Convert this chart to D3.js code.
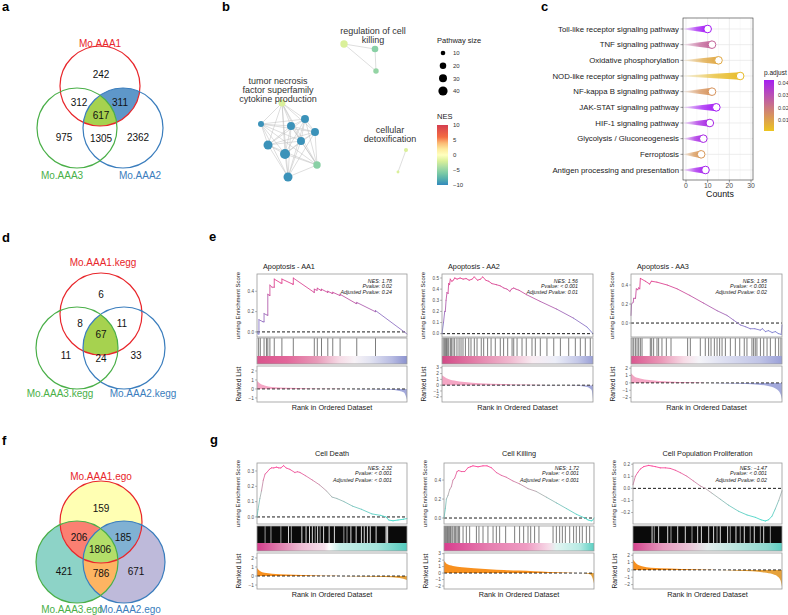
<!DOCTYPE html>
<html>
<head>
<meta charset="utf-8">
<script src="https://cdn.jsdelivr.net/npm/d3@7"></script>
<style>
body { margin: 0; background: #fff; }
svg { font-family: "Liberation Sans", Arial, Helvetica, sans-serif; }
</style>
</head>
<body>
<div id="fig"></div>
<script>
// ---------------- data ----------------
// venn regions: key = AAA1 AAA2 AAA3 membership
var vennKeys = ["100", "110", "101", "111", "001", "011", "010"];
var vennA = [242, 311, 312, 617, 975, 1305, 2362];
var vennD = [6, 11, 8, 67, 11, 24, 33];
var vennF = [159, 185, 206, 1806, 421, 786, 671];
var namesA = ["Mo.AAA1", "Mo.AAA2", "Mo.AAA3"];
var namesD = ["Mo.AAA1.kegg", "Mo.AAA2.kegg", "Mo.AAA3.kegg"];
var namesF = ["Mo.AAA1.ego", "Mo.AAA2.ego", "Mo.AAA3.ego"];

// panel b network (layout position, pathway size, NES, cluster)
var netX = [344, 375, 376, 282, 261, 291, 305, 315, 301, 268, 285, 317, 288, 406, 398];
var netY = [44, 49, 71, 103, 124, 126, 119, 132, 141, 145, 154, 165, 177, 150, 172];
var netSize = [26, 21, 14, 23, 17, 30, 30, 30, 30, 38, 47, 26, 38, 8, 4];
var netNES = [-2, -5.5, -5, -2, -9.5, -9.5, -9.5, -9.5, -9.5, -9.5, -9.5, -5.5, -9.5, -2, -2];
var netCluster = [0, 0, 0, 1, 1, 1, 1, 1, 1, 1, 1, 1, 1, 2, 2];
var clusterLabels = [["regulation of cell", "killing"], ["tumor necrosis", "factor superfamily", "cytokine production"], ["cellular", "detoxification"]];
var sizeTicks = [10, 20, 30, 40];
var nesTicks = [10, 5, 0, -5, -10];

// panel c
var keggTerms = ["Toll-like receptor signaling pathway", "TNF signaling pathway", "Oxidative phosphorylation",
  "NOD-like receptor signaling pathway", "NF-kappa B signaling pathway", "JAK-STAT signaling pathway",
  "HIF-1 signaling pathway", "Glycolysis / Gluconeogenesis", "Ferroptosis", "Antigen processing and presentation"];
var keggCounts = [10, 12, 15, 25, 12, 14, 11, 8, 7, 9];
var keggPadj = [0.043, 0.025, 0.008, 0.003, 0.013, 0.043, 0.04, 0.04, 0.012, 0.042];
var countTicks = [0, 10, 20, 30];
var padjTicks = [0.04, 0.03, 0.02, 0.01];

// panel e: GSEA apoptosis
var esE1 = [[0,0],[.007,-.02],[.013,-.02],[.013,.12],[.04,.10],[.047,.10],[.047,.18],[.068,.165],[.072,.165],[.072,.37],[.082,.36],[.086,.36],[.086,.46],[.1,.44],[.115,.44],[.115,.52],[.16,.48],[.166,.48],[.166,.52],[.238,.47],[.242,.47],[.242,.53],[.38,.39],[.382,.39],[.382,.42],[.4,.41],[.402,.43],[.425,.41],[.43,.41],[.43,.42],[.47,.39],[.472,.39],[.472,.40],[.5,.38],[.505,.38],[.505,.39],[.55,.36],[.554,.36],[.554,.37],[.66,.28],[.665,.28],[.665,.29],[.788,.20],[.79,.20],[.79,.21],[1,-.02]];
var hitsE1 = [.011,.022,.047,.063,.072,.086,.115,.166,.242,.382,.402,.43,.472,.505,.554,.665,.79];
var rankE1 = [[0,.9],[.02,.6],[.05,.38],[.1,.22],[.2,.12],[.35,.06],[.5,.02],[.6,0],[.75,-.04],[.88,-.1],[.95,-.22],[.98,-.4],[1,-1.2]];
var bandE1 = [[0,"#d9548c"],[.2,"#e2679a"],[.4,"#e79ab8"],[.55,"#f6dbe6"],[.65,"#f7f2f6"],[.75,"#e3e4f2"],[.9,"#b7bbe2"],[1,"#8b92cf"]];
var statsE1 = ["NES: 1.78", "Pvalue: 0.02", "Adjusted Pvalue: 0.24"];

var esE2 = [[0,0],[.01,.1],[.018,.2],[.022,.2],[.027,.3],[.033,.37],[.04,.36],[.044,.45],[.05,.44],[.055,.49],[.065,.47],[.075,.48],[.084,.5],[.1,.49],[.12,.5],[.14,.49],[.16,.495],[.18,.48],[.2,.49],[.214,.51],[.235,.48],[.255,.49],[.27,.51],[.29,.48],[.31,.47],[.33,.45],[.36,.44],[.385,.43],[.41,.41],[.43,.40],[.45,.38],[.46,.40],[.475,.41],[.49,.40],[.51,.39],[.56,.35],[.65,.29],[.76,.22],[.87,.14],[.96,.06],[1,0]];
var hitsE2 = [.007,.015,.022,.029,.035,.044,.055,.062,.073,.084,.099,.113,.126,.139,.155,.177,.192,.214,.232,.26,.276,.302,.325,.353,.386,.408,.435,.464,.475,.497,.53,.558,.596,.618,.651,.695,.74,.784,.839,.883,.916,.949,.982];
var rankE2 = [[0,1.7],[.03,1.2],[.08,.8],[.15,.55],[.25,.35],[.4,.2],[.55,.1],[.7,.04],[.8,0],[.9,-.08],[.96,-.3],[.99,-.8],[1,-2.5]];
var bandE2 = [[0,"#d14a86"],[.2,"#e27aa5"],[.45,"#f0b9cf"],[.6,"#f8ecf2"],[.75,"#eceef8"],[.9,"#c4c8e8"],[1,"#9aa0d6"]];
var statsE2 = ["NES: 1.56", "Pvalue: < 0.001", "Adjusted Pvalue: 0.01"];

var esE3 = [[0,.08],[.004,.2],[.015,.22],[.018,.26],[.03,.26],[.035,.36],[.045,.35],[.05,.37],[.058,.36],[.062,.47],[.095,.44],[.124,.41],[.135,.44],[.172,.43],[.24,.40],[.305,.36],[.39,.29],[.48,.21],[.57,.13],[.636,.08],[.68,.03],[.724,-.02],[.76,-.04],[.79,-.06],[.82,-.06],[.856,-.075],[.87,-.06],[.89,-.09],[.91,-.08],[.935,-.1],[.956,-.09],[.975,-.11],[.995,-.12],[1,-.02]];
var hitsE3 = [.007,.018,.029,.04,.051,.062,.073,.128,.137,.15,.172,.183,.205,.234,.265,.375,.393,.459,.492,.514,.53,.552,.57,.587,.603,.625,.658,.691,.72,.75,.768,.801,.812,.823,.834,.857,.879,.901,.923,.956,.978,.993];
var rankE3 = [[0,1.3],[.02,.9],[.06,.6],[.12,.4],[.25,.2],[.4,.08],[.5,0],[.65,-.08],[.8,-.2],[.9,-.4],[.96,-.8],[.99,-1.5],[1,-2.3]];
var bandE3 = [[0,"#d9578f"],[.2,"#ea98b7"],[.35,"#f7dbe6"],[.45,"#f5f5f9"],[.6,"#dfe1f2"],[.85,"#c0c4e6"],[1,"#9aa0d8"]];
var statsE3 = ["NES: 1.95", "Pvalue: < 0.001", "Adjusted Pvalue: 0.02"];

// panel g: GSEA GO terms
var esG1 = [[0,0],[.007,.05],[.019,.12],[.03,.17],[.042,.24],[.054,.28],[.065,.29],[.082,.31],[.096,.32],[.112,.32],[.13,.325],[.145,.32],[.159,.32],[.178,.335],[.194,.32],[.22,.31],[.252,.29],[.27,.295],[.287,.29],[.322,.27],[.37,.24],[.416,.21],[.463,.17],[.5,.13],[.533,.12],[.58,.10],[.638,.07],[.696,.05],[.766,.02],[.825,.01],[.86,0],[.878,-.02],[.907,-.025],[.94,-.02],[.977,-.015],[1,-.01]];
var gapsG1 = [.21,.299,.327,.35,.369,.404,.444,.481,.516,.626,.661,.696,.715,.736,.755,.794,.86,.866,.871];
var greyG1 = [.054,.093,.159,.229,.388,.421,.579,.6];
var rankG1 = [[0,.9],[.02,.55],[.05,.35],[.1,.25],[.2,.17],[.3,.12],[.4,.07],[.5,.02],[.55,0],[.7,-.05],[.85,-.12],[.95,-.22],[1,-.45]];
var bandG1 = [[0,"#d43d8c"],[.15,"#e07fae"],[.3,"#efbfd6"],[.45,"#f6e1ec"],[.48,"#ffffff"],[.55,"#c9efea"],[.8,"#a5e4dc"],[1,"#54cbbe"]];
var statsG1 = ["NES: 2.32", "Pvalue: < 0.001", "Adjusted Pvalue: < 0.001"];

var esG2 = [[0,0],[.009,.1],[.016,.2],[.027,.24],[.038,.3],[.049,.33],[.06,.4],[.071,.42],[.087,.49],[.098,.5],[.116,.49],[.138,.49],[.16,.53],[.176,.54],[.193,.55],[.227,.54],[.26,.55],[.287,.55],[.316,.53],[.349,.48],[.382,.45],[.415,.43],[.46,.39],[.504,.36],[.56,.31],[.615,.28],[.682,.22],[.749,.16],[.816,.1],[.882,.04],[.938,0],[.96,-.02],[.982,-.03],[.993,-.02],[1,0]];
var hitsG2 = [.004,.011,.018,.024,.031,.038,.044,.053,.06,.071,.078,.087,.096,.104,.127,.149,.171,.216,.233,.26,.293,.327,.349,.371,.411,.471,.504,.531,.56,.578,.604,.633,.727,.749,.771,.789,.809,.838,.864,.882,.904,.922,.949,.971];
var rankG2 = [[0,1.9],[.02,1.4],[.06,1.1],[.12,.9],[.2,.75],[.3,.6],[.4,.48],[.5,.38],[.6,.28],[.7,.18],[.8,.1],[.88,.03],[.92,0],[.96,-.1],[.98,-.3],[1,-1.6]];
var bandG2 = [[0,"#d93d8e"],[.3,"#e67fb0"],[.55,"#ef9cc3"],[.7,"#f6dbe8"],[.75,"#e2f5f2"],[.9,"#b9ebe5"],[1,"#5ccfc2"]];
var statsG2 = ["NES: 1.72", "Pvalue: < 0.001", "Adjusted Pvalue: < 0.001"];

var esG3 = [[0,.03],[.016,.1],[.031,.13],[.049,.16],[.072,.18],[.105,.19],[.128,.185],[.15,.18],[.183,.17],[.217,.17],[.25,.165],[.284,.15],[.318,.13],[.362,.1],[.407,.06],[.452,.02],[.485,0],[.53,-.04],[.586,-.09],[.642,-.14],[.709,-.19],[.765,-.22],[.821,-.24],[.859,-.26],[.888,-.27],[.91,-.26],[.933,-.23],[.955,-.17],[.978,-.1],[1,-.02]];
var gapsG3 = [.128,.172,.233,.3,.351,.434,.459,.508,.541,.586,.635,.691,.747,.814,.877];
var greyG3 = [.143,.255,.396,.564,.653,.72,.787,.855,.922];
var rankG3 = [[0,1.4],[.02,.9],[.06,.5],[.12,.3],[.25,.18],[.4,.08],[.5,.02],[.55,0],[.7,-.1],[.8,-.2],[.88,-.35],[.94,-.6],[.97,-.9],[.99,-1.4],[1,-2.3]];
var bandG3 = [[0,"#d5448e"],[.2,"#e79bbf"],[.38,"#eac6d8"],[.5,"#e5eeee"],[.7,"#b9e5df"],[.9,"#8fd8cf"],[1,"#5ccfc2"]];
var statsG3 = ["NES: \u22121.47", "Pvalue: < 0.001", "Adjusted Pvalue: 0.02"];

// ---------------- svg ----------------
var W = 788, H = 615;
var svg = d3.select("#fig").append("svg").attr("width", W).attr("height", H);
svg.append("rect").attr("width", W).attr("height", H).attr("fill", "#fff");
var defs = svg.append("defs");

[["a", 2, 11], ["b", 222, 11], ["c", 541, 11], ["d", 2, 242], ["e", 209, 241], ["f", 2, 445], ["g", 210, 444]]
  .forEach(function(l) {
    svg.append("text").attr("x", l[1]).attr("y", l[2]).attr("font-size", 13).attr("font-weight", "bold")
      .attr("fill", "#000").text(l[0]);
  });

// ---------------- venn ----------------
var vennStroke = ["#e8262b", "#3a7dbd", "#4aaf48"];

function drawVenn(id, circ, counts, names, labelPos, namePos, fills) {
  var g = svg.append("g");
  circ.forEach(function(c, i) {
    defs.append("clipPath").attr("id", id + "c" + i)
      .append("circle").attr("cx", c[0]).attr("cy", c[1]).attr("r", c[2]);
  });
  vennKeys.forEach(function(k) {
    var fill = fills[k];
    if (!fill) return;
    var inc = [], exc = [];
    for (var i = 0; i < 3; i++) (k[i] === "1" ? inc : exc).push(i);
    var m = defs.append("mask").attr("id", id + "m" + k).attr("maskUnits", "userSpaceOnUse")
      .attr("x", 0).attr("y", 0).attr("width", W).attr("height", H);
    m.append("rect").attr("width", W).attr("height", H).attr("fill", "#fff");
    exc.forEach(function(e) {
      m.append("circle").attr("cx", circ[e][0]).attr("cy", circ[e][1]).attr("r", circ[e][2]).attr("fill", "#000");
    });
    var node = g.append("g").attr("mask", "url(#" + id + "m" + k + ")");
    for (var t = 1; t < inc.length; t++) node = node.append("g").attr("clip-path", "url(#" + id + "c" + inc[t] + ")");
    var c0 = circ[inc[0]];
    node.append("circle").attr("cx", c0[0]).attr("cy", c0[1]).attr("r", c0[2]).attr("fill", fill);
  });
  circ.forEach(function(c, i) {
    g.append("circle").attr("cx", c[0]).attr("cy", c[1]).attr("r", c[2])
      .attr("fill", "none").attr("stroke", vennStroke[i]).attr("stroke-width", 1.2);
  });
  counts.forEach(function(v, j) {
    g.append("text").attr("x", labelPos[j][0]).attr("y", labelPos[j][1] + 3.5)
      .attr("text-anchor", "middle").attr("font-size", 10).attr("fill", "#111").text(v);
  });
  names.forEach(function(n, i) {
    g.append("text").attr("x", namePos[i][0]).attr("y", namePos[i][1])
      .attr("text-anchor", "middle").attr("font-size", 10).attr("fill", vennStroke[i]).text(n);
  });
}

drawVenn("va", [[100, 86, 40], [123, 128, 40], [77, 128, 40]], vennA, namesA,
  [[101, 74], [120, 102], [79, 102], [101, 115], [64, 137], [101, 138], [138, 137]],
  [[100, 46.5], [140, 178.5], [62, 178.5]],
  { "111": "#a6d24f", "110": "#5e97c9" });

drawVenn("vd", [[101, 314, 41], [124, 348, 41], [77, 348, 41]], vennD, namesD,
  [[101, 294], [122, 323], [80, 323], [101, 334], [66, 355], [101, 358], [136, 355]],
  [[103, 265.5], [143, 396.5], [60, 396.5]],
  { "111": "#a6d24f" });

drawVenn("vf", [[101, 522, 41], [124, 562, 41], [77, 562, 41]], vennF, namesF,
  [[101, 508], [123, 537], [79, 537], [100, 549], [64, 571], [101, 573], [136, 571]],
  [[101, 479.5], [130, 612.5], [72, 612.5]],
  { "100": "#ffffb3", "010": "#bebada", "001": "#8dd3c7", "110": "#80b1d3",
    "101": "#fb8072", "011": "#fdb462", "111": "#b3de69" });

// ---------------- panel b ----------------
var nesColor = d3.scaleLinear()
  .domain([-10, -7, -4, -1.5, 0, 3, 6, 10])
  .range(["#3288bd", "#66c2a5", "#abdda4", "#e6f598", "#ffffbf", "#fee08b", "#f46d43", "#d53e4f"]);
var rSize = d3.scaleSqrt().domain([0, 40]).range([0, 4.6]);
var nx = d3.scaleLinear().domain([200, 420]).range([200, 420]);
var ny = d3.scaleLinear().domain([0, 200]).range([0, 200]);

var gb = svg.append("g");
for (var i = 0; i < netX.length; i++) {
  for (var j = i + 1; j < netX.length; j++) {
    if (netCluster[i] !== netCluster[j]) continue;
    gb.append("line").attr("x1", nx(netX[i])).attr("y1", ny(netY[i]))
      .attr("x2", nx(netX[j])).attr("y2", ny(netY[j]))
      .attr("stroke", "#bdbdbd").attr("stroke-width", 0.5);
  }
}
gb.selectAll("circle.node").data(netX).enter().append("circle")
  .attr("cx", function(d) { return nx(d); })
  .attr("cy", function(d, i) { return ny(netY[i]); })
  .attr("r", function(d, i) { return rSize(netSize[i]); })
  .attr("fill", function(d, i) { return nesColor(netNES[i]); });

var clusterLabelPos = [[373, 34], [278, 84], [390, 133]];
clusterLabels.forEach(function(lines, c) {
  lines.forEach(function(t, k) {
    gb.append("text").attr("x", clusterLabelPos[c][0]).attr("y", clusterLabelPos[c][1] + k * 9)
      .attr("text-anchor", "middle").attr("font-size", 9).attr("fill", "#333").text(t);
  });
});

// size legend
gb.append("text").attr("x", 437).attr("y", 43).attr("font-size", 7.5).attr("fill", "#222").text("Pathway size");
var sizeY = d3.scalePoint().domain(sizeTicks).range([53, 91]);
sizeTicks.forEach(function(s) {
  gb.append("circle").attr("cx", 443).attr("cy", sizeY(s)).attr("r", rSize(s)).attr("fill", "#000");
  gb.append("text").attr("x", 453).attr("y", sizeY(s) + 2.2).attr("font-size", 6).attr("fill", "#333").text(s);
});
// NES colour bar
gb.append("text").attr("x", 437).attr("y", 119).attr("font-size", 7.5).attr("fill", "#222").text("NES");
var nesY = d3.scaleLinear().domain([-10, 10]).range([185, 125]);
var nesGrad = defs.append("linearGradient").attr("id", "nesGrad").attr("x1", 0).attr("y1", 1).attr("x2", 0).attr("y2", 0);
d3.range(-10, 10.01, 2).forEach(function(v) {
  nesGrad.append("stop").attr("offset", (v + 10) / 20).attr("stop-color", nesColor(v));
});
gb.append("rect").attr("x", 437).attr("y", nesY(10)).attr("width", 11).attr("height", nesY(-10) - nesY(10))
  .attr("fill", "url(#nesGrad)");
nesTicks.forEach(function(v) {
  gb.append("text").attr("x", 453).attr("y", nesY(v) + 2.2).attr("font-size", 6).attr("fill", "#333")
    .text(v < 0 ? "\u2212" + Math.abs(v) : v);
});

// ---------------- panel c ----------------
var gc = svg.append("g");
var cx = d3.scaleLinear().domain([0, 30]).range([686, 751]);
var cy = d3.scalePoint().domain(keggTerms).range([29, 170]);
var padjColor = d3.scaleLinear().domain([0.0008, 0.0425]).range(["#ecc51f", "#a51ff2"]);
var cBox = [683, 18, 753, 180];
[5, 15, 25].forEach(function(v) {
  gc.append("line").attr("x1", cx(v)).attr("x2", cx(v)).attr("y1", cBox[1]).attr("y2", cBox[3])
    .attr("stroke", "#f0f0f0").attr("stroke-width", 0.4);
});
countTicks.forEach(function(v) {
  gc.append("line").attr("x1", cx(v)).attr("x2", cx(v)).attr("y1", cBox[1]).attr("y2", cBox[3])
    .attr("stroke", "#e6e6e6").attr("stroke-width", 0.7);
});
keggTerms.forEach(function(t) {
  gc.append("line").attr("x1", cBox[0]).attr("x2", cBox[2]).attr("y1", cy(t)).attr("y2", cy(t))
    .attr("stroke", "#e6e6e6").attr("stroke-width", 0.7);
});
keggTerms.forEach(function(t, i) {
  var col = padjColor(keggPadj[i]);
  var grad = defs.append("linearGradient").attr("id", "lg" + i).attr("x1", 0).attr("x2", 1).attr("y1", 0).attr("y2", 0);
  grad.append("stop").attr("offset", 0).attr("stop-color", col).attr("stop-opacity", 0.08);
  grad.append("stop").attr("offset", 0.55).attr("stop-color", col).attr("stop-opacity", 0.75);
  grad.append("stop").attr("offset", 1).attr("stop-color", col).attr("stop-opacity", 1);
  var r = 3.8, xe = cx(keggCounts[i]), y = cy(t);
  gc.append("path")
    .attr("d", "M" + (cx(0) - 2) + "," + (y - 0.4) + "L" + xe + "," + (y - r) + "L" + xe + "," + (y + r) +
      "L" + (cx(0) - 2) + "," + (y + 0.4) + "Z")
    .attr("fill", "url(#lg" + i + ")");
  gc.append("circle").attr("cx", xe).attr("cy", y).attr("r", r)
    .attr("fill", "#fff").attr("stroke", col).attr("stroke-width", 1);
  gc.append("line").attr("x1", cBox[0] - 2.5).attr("x2", cBox[0]).attr("y1", y).attr("y2", y)
    .attr("stroke", "#333").attr("stroke-width", 0.5);
  gc.append("text").attr("x", cBox[0] - 4).attr("y", y + 2.7).attr("text-anchor", "end")
    .attr("font-size", 7.8).attr("fill", "#1a1a1a").text(t);
});
gc.append("rect").attr("x", cBox[0]).attr("y", cBox[1]).attr("width", cBox[2] - cBox[0]).attr("height", cBox[3] - cBox[1])
  .attr("fill", "none").attr("stroke", "#333").attr("stroke-width", 0.6);
countTicks.forEach(function(v) {
  gc.append("line").attr("x1", cx(v)).attr("x2", cx(v)).attr("y1", cBox[3]).attr("y2", cBox[3] + 2.5)
    .attr("stroke", "#333").attr("stroke-width", 0.5);
  gc.append("text").attr("x", cx(v)).attr("y", 188).attr("text-anchor", "middle")
    .attr("font-size", 6.8).attr("fill", "#4d4d4d").text(v);
});
gc.append("text").attr("x", 720).attr("y", 197).attr("text-anchor", "middle").attr("font-size", 8.8)
  .attr("fill", "#111").text("Counts");
// p.adjust bar
gc.append("text").attr("x", 764).attr("y", 75).attr("font-size", 6.5).attr("fill", "#222").text("p.adjust");
var pY = d3.scaleLinear().domain([0.0008, 0.0425]).range([131, 80]);
var pGrad = defs.append("linearGradient").attr("id", "pGrad").attr("x1", 0).attr("y1", 1).attr("x2", 0).attr("y2", 0);
d3.range(0, 1.001, 0.1).forEach(function(t) {
  pGrad.append("stop").attr("offset", t).attr("stop-color", padjColor(0.0008 + t * (0.0425 - 0.0008)));
});
gc.append("rect").attr("x", 764).attr("y", 80).attr("width", 10).attr("height", 51).attr("fill", "url(#pGrad)");
padjTicks.forEach(function(v) {
  gc.append("text").attr("x", 778).attr("y", pY(v) + 2).attr("font-size", 5.5).attr("fill", "#333").text(v.toFixed(2));
});

// ---------------- GSEA plots ----------------
var rowE = { esTop: 274, esBot: 337, hitTop: 338, bandTop: 356, hitBot: 364, rkTop: 366, rkBot: 402,
  xlabY: 410, titleY: 269, center: false, statY: [282.5, 287.5, 293.5],
  lineColors: ["#7b83d3", "#e8408c"], pos: "#f4a6c4", neg: "#a3a9db" };
var rowG = { esTop: 463, esBot: 524, hitTop: 526, bandTop: 543, hitBot: 551, rkTop: 553, rkBot: 589,
  xlabY: 597, titleY: 456, center: true, statY: [469.5, 475, 481.5],
  lineColors: ["#40dccc", "#b0b0b0", "#ff3e96"], pos: "#f8901e", neg: "#e6a23c" };

var gseaPlots = [
  { id: "e1", row: rowE, x0: 257, x1: 407, title: "Apoptosis - AA1", es: esE1, esDom: [-0.05, 0.57], esTicks: [0, 0.2, 0.4],
    hits: hitsE1, rank: rankE1, rkDom: [-1.45, 2.55], rkTicks: [-1, 0, 1, 2], band: bandE1, stats: statsE1 },
  { id: "e2", row: rowE, x0: 442, x1: 593, title: "Apoptosis - AA2", es: esE2, esDom: [-0.03, 0.536], esTicks: [0, .1, .2, .3, .4, .5],
    hits: hitsE2, rank: rankE2, rkDom: [-2.9, 3.3], rkTicks: [-2, -1, 0, 1, 2, 3], band: bandE2, stats: statsE2 },
  { id: "e3", row: rowE, x0: 631, x1: 782, title: "Apoptosis - AA3", es: esE3, esDom: [-0.147, 0.516], esTicks: [0, 0.2, 0.4],
    hits: hitsE3, rank: rankE3, rkDom: [-2.6, 2.3], rkTicks: [-2, -1, 0, 1, 2], band: bandE3, stats: statsE3 },
  { id: "g1", row: rowG, x0: 257, x1: 407, title: "Cell Death", es: esG1, esDom: [-0.046, 0.352], esTicks: [0, .1, .2, .3],
    gaps: gapsG1, greys: greyG1, rank: rankG1, rkDom: [-1.44, 2.55], rkTicks: [-1, 0, 1, 2], band: bandG1, stats: statsG1 },
  { id: "g2", row: rowG, x0: 444, x1: 594, title: "Cell Killing", es: esG2, esDom: [-0.063, 0.58], esTicks: [0, 0.2, 0.4],
    hits: hitsG2, rank: rankG2, rkDom: [-2.46, 3.1], rkTicks: [-2, -1, 0, 1, 2, 3], band: bandG2, stats: statsG2 },
  { id: "g3", row: rowG, x0: 633, x1: 782, title: "Cell Population Proliferation", es: esG3, esDom: [-0.295, 0.21], esTicks: [-.2, -.1, 0, .1, .2],
    gaps: gapsG3, greys: greyG3, rank: rankG3, rkDom: [-2.6, 2.3], rkTicks: [-2, -1, 0, 1, 2], band: bandG3, stats: statsG3 }
];

var fmt1 = d3.format(".1f");

function yTicks(g, scale, ticks, x0, fs, f) {
  ticks.forEach(function(v) {
    g.append("line").attr("x1", x0 - 2).attr("x2", x0).attr("y1", scale(v)).attr("y2", scale(v))
      .attr("stroke", "#555").attr("stroke-width", 0.4);
    g.append("text").attr("x", x0 - 3).attr("y", scale(v)).attr("dy", "0.35em").attr("text-anchor", "end")
      .attr("font-size", fs).attr("fill", "#4d4d4d").text(f ? f(v) : (v < 0 ? "\u2212" + Math.abs(v) : v));
  });
}

gseaPlots.forEach(function(p) {
  var row = p.row;
  var g = svg.append("g");
  var x = d3.scaleLinear().domain([0, 1]).range([p.x0, p.x1]);
  var yE = d3.scaleLinear().domain(p.esDom).range([row.esBot, row.esTop]);
  var yR = d3.scaleLinear().domain(p.rkDom).range([row.rkBot, row.rkTop]);

  // title
  g.append("text").attr("x", row.center ? (p.x0 + p.x1) / 2 : p.x0 + 6).attr("y", row.titleY)
    .attr("text-anchor", row.center ? "middle" : "start").attr("font-size", 7.3).attr("fill", "#222").text(p.title);

  // ES panel
  g.append("line").attr("x1", p.x0).attr("x2", p.x1).attr("y1", yE(0)).attr("y2", yE(0))
    .attr("stroke", "#000").attr("stroke-width", 0.9).attr("stroke-dasharray", "3,2");
  var esMin = d3.min(p.es, function(d) { return d[1]; }), esMax = d3.max(p.es, function(d) { return d[1]; });
  var lc = row.lineColors.length === 3
    ? d3.scaleLinear().domain([esMin, (esMin + esMax) / 2, esMax]).range(row.lineColors)
    : d3.scaleLinear().domain([esMin, esMax]).range(row.lineColors);
  for (var k = 0; k < p.es.length - 1; k++) {
    var a = p.es[k], b = p.es[k + 1];
    g.append("line").attr("x1", x(a[0])).attr("y1", yE(a[1])).attr("x2", x(b[0])).attr("y2", yE(b[1]))
      .attr("stroke", lc((a[1] + b[1]) / 2)).attr("stroke-width", 0.9).attr("stroke-linecap", "round");
  }
  g.append("rect").attr("x", p.x0).attr("y", row.esTop).attr("width", p.x1 - p.x0).attr("height", row.esBot - row.esTop)
    .attr("fill", "none").attr("stroke", "#999").attr("stroke-width", 0.8);
  yTicks(g, yE, p.esTicks, p.x0, 4.6, fmt1);
  p.stats.forEach(function(s, k) {
    g.append("text").attr("x", p.x1 - 15).attr("y", row.statY[k]).attr("text-anchor", "end")
      .attr("font-size", 5.3).attr("font-style", "italic").attr("fill", "#222").text(s);
  });
  g.append("text").attr("transform", "translate(" + (p.x0 - 17) + "," + ((row.esTop + row.esBot) / 2) + ") rotate(-90)")
    .attr("text-anchor", "middle").attr("font-size", 6).attr("fill", "#222").text("unning Enrichment Score");

  // hits panel
  if (p.gaps) {
    g.append("rect").attr("x", p.x0).attr("y", row.hitTop).attr("width", p.x1 - p.x0).attr("height", row.bandTop - row.hitTop)
      .attr("fill", "#0a0a0a");
    p.greys.forEach(function(h) {
      g.append("line").attr("x1", x(h)).attr("x2", x(h)).attr("y1", row.hitTop).attr("y2", row.bandTop)
        .attr("stroke", "#8c8c8c").attr("stroke-width", 1.1);
    });
    p.gaps.forEach(function(h) {
      g.append("line").attr("x1", x(h)).attr("x2", x(h)).attr("y1", row.hitTop).attr("y2", row.bandTop)
        .attr("stroke", "#f4f4f4").attr("stroke-width", 0.9);
    });
  } else {
    p.hits.forEach(function(h) {
      g.append("line").attr("x1", x(h)).attr("x2", x(h)).attr("y1", row.hitTop).attr("y2", row.bandTop)
        .attr("stroke", "#222").attr("stroke-opacity", 0.85).attr("stroke-width", 0.7);
    });
  }
  var bg = defs.append("linearGradient").attr("id", "band" + p.id).attr("x1", 0).attr("x2", 1).attr("y1", 0).attr("y2", 0);
  p.band.forEach(function(s) { bg.append("stop").attr("offset", s[0]).attr("stop-color", s[1]); });
  g.append("rect").attr("x", p.x0).attr("y", row.bandTop).attr("width", p.x1 - p.x0).attr("height", row.hitBot - row.bandTop)
    .attr("fill", "url(#band" + p.id + ")");
  g.append("rect").attr("x", p.x0).attr("y", row.hitTop).attr("width", p.x1 - p.x0).attr("height", row.hitBot - row.hitTop)
    .attr("fill", "none").attr("stroke", "#999").attr("stroke-width", 0.8);

  // ranked list panel
  defs.append("clipPath").attr("id", "cp" + p.id).append("rect")
    .attr("x", p.x0).attr("y", row.rkTop).attr("width", p.x1 - p.x0).attr("height", yR(0) - row.rkTop);
  defs.append("clipPath").attr("id", "cn" + p.id).append("rect")
    .attr("x", p.x0).attr("y", yR(0)).attr("width", p.x1 - p.x0).attr("height", row.rkBot - yR(0));
  var area = d3.area().x(function(d) { return x(d[0]); }).y0(yR(0)).y1(function(d) { return yR(d[1]); })
    .curve(d3.curveMonotoneX);
  g.append("path").attr("d", area(p.rank)).attr("fill", row.pos).attr("clip-path", "url(#cp" + p.id + ")");
  g.append("path").attr("d", area(p.rank)).attr("fill", row.neg).attr("clip-path", "url(#cn" + p.id + ")");
  g.append("line").attr("x1", p.x0).attr("x2", p.x1).attr("y1", yR(0)).attr("y2", yR(0))
    .attr("stroke", "#000").attr("stroke-width", 0.8).attr("stroke-dasharray", "3,2");
  g.append("rect").attr("x", p.x0).attr("y", row.rkTop).attr("width", p.x1 - p.x0).attr("height", row.rkBot - row.rkTop)
    .attr("fill", "none").attr("stroke", "#999").attr("stroke-width", 0.8);
  yTicks(g, yR, p.rkTicks, p.x0, 4.8);
  g.append("text").attr("transform", "translate(" + (p.x0 - 16) + "," + ((row.rkTop + row.rkBot) / 2) + ") rotate(-90)")
    .attr("text-anchor", "middle").attr("font-size", 6.6).attr("fill", "#222").text("Ranked List");
  g.append("text").attr("x", (p.x0 + p.x1) / 2).attr("y", row.xlabY).attr("text-anchor", "middle")
    .attr("font-size", 7.3).attr("fill", "#222").text("Rank in Ordered Dataset");
});
</script>
</body>
</html>
